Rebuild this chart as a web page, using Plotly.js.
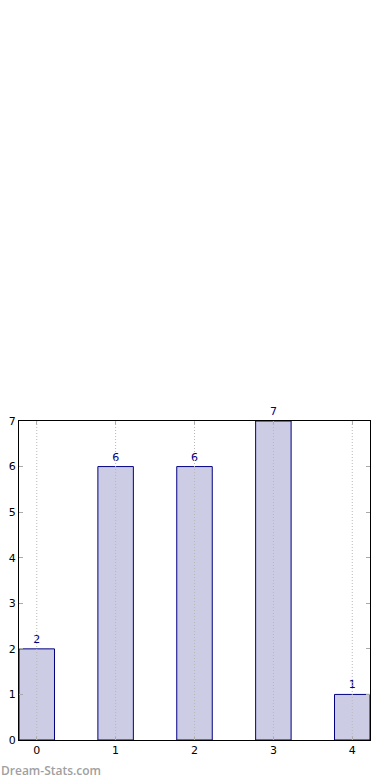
<!DOCTYPE html>
<html>
<head>
<meta charset="utf-8">
<script src="https://cdn.plot.ly/plotly-3.0.1.min.js"></script>
<style>html,body{margin:0;padding:0;background:#fff;}#chart{width:390px;height:780px;}</style>
</head>
<body>
<div id="chart"></div>
<script>
const categories = [0, 1, 2, 3, 4];
const values = [2, 6, 6, 7, 1];
const tickLabels = ["0", "1", "2", "3", "4"];
const yTicks = [0, 1, 2, 3, 4, 5, 6, 7];

const barWidth = 0.45;

const trace = {
  type: 'bar',
  x: categories,
  y: values,
  width: barWidth,
  marker: {color: '#ccccE5', line: {color: '#000080', width: 1}},
  text: values.map(String),
  textposition: 'outside',
  textfont: {family: 'DejaVu Sans', size: 11, color: '#000080'},
  cliponaxis: false,
  hoverinfo: 'none'
};

const gridShapes = categories.map(c => ({
  type: 'line', xref: 'x', yref: 'paper', x0: c, x1: c, y0: 0, y1: 1,
  line: {color: '#b8b8b8', width: 1, dash: '1px,2px'}, layer: 'above'
}));

const layout = {
  width: 390, height: 780,
  margin: {l: 19, r: 20, t: 421, b: 40},
  paper_bgcolor: '#fff', plot_bgcolor: '#fff',
  showlegend: false,
  bargap: 0,
  font: {family: 'DejaVu Sans', size: 11, color: '#000'},
  xaxis: {
    range: [-barWidth / 2, categories.length - 1 + barWidth / 2],
    tickvals: categories, ticktext: tickLabels,
    showgrid: false, zeroline: false,
    showline: true, linecolor: '#000', linewidth: 1, mirror: 'ticks',
    ticks: 'inside', ticklen: 4, tickcolor: '#aaaaaa',
    tickfont: {family: 'DejaVu Sans', size: 11, color: '#000'}
  },
  yaxis: {
    range: [0, 7],
    tickvals: yTicks,
    showgrid: false, zeroline: false,
    showline: true, linecolor: '#000', linewidth: 1, mirror: 'ticks',
    ticks: 'inside', ticklen: 4, tickcolor: '#aaaaaa',
    tickfont: {family: 'DejaVu Sans', size: 11, color: '#000'}
  },
  shapes: gridShapes,
  annotations: [{
    text: 'Dream-Stats.com', xref: 'paper', yref: 'paper',
    x: -20 / 351, y: -30 / 319, xanchor: 'left', yanchor: 'middle',
    showarrow: false,
    font: {family: 'Open Sans', size: 12, color: '#a0a0a0', weight: 600}
  }]
};

Plotly.newPlot('chart', [trace], layout, {displayModeBar: false, staticPlot: true});
</script>
</body>
</html>
